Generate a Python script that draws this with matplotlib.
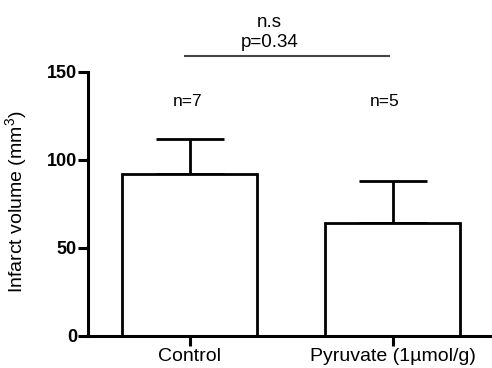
import numpy as np
import matplotlib
matplotlib.use('Agg')
import matplotlib.pyplot as plt

plt.rcParams['font.family'] = ['Liberation Sans', 'DejaVu Sans']
plt.rcParams['mathtext.fontset'] = 'custom'
plt.rcParams['mathtext.rm'] = 'Liberation Sans'

groups = ['Control', 'Pyruvate (1µmol/g)']
means = [92, 64]
sem = [20, 24]
n_labels = ['n=7', 'n=5']
yticks = [0, 50, 100, 150]
sig_label = 'n.s'
p_label = 'p=0.34'

fig = plt.figure(figsize=(4.92, 3.68), dpi=100)
ax = fig.add_axes([88 / 492, 32 / 368, 404 / 492, 264 / 368])

x = np.arange(len(groups))
ax.bar(x, means, width=0.665, color='white', edgecolor='black', linewidth=2.0, zorder=2)
ax.errorbar(x, means, yerr=[np.zeros(len(sem)), sem], fmt='none', ecolor='black',
            elinewidth=2.0, capsize=24.5, capthick=2.0, zorder=1)

for xi, lab, off in zip(x, n_labels, [-0.01, -0.04]):
    ax.text(xi + off, 133, lab, ha='center', va='center', fontsize=12.5)

ax.set_xlim(-0.502, 1.49)
ax.set_ylim(0, 150)
ax.set_yticks(yticks)
ax.set_yticklabels([str(t) for t in yticks], fontweight='bold', fontsize=13)
ax.set_xticks(x)
ax.set_xticklabels(groups, fontsize=14)

for s in ['top', 'right']:
    ax.spines[s].set_visible(False)
for s in ['left', 'bottom']:
    ax.spines[s].set_linewidth(2.2)
ax.tick_params(axis='both', width=2.2, length=7, direction='out')
ax.tick_params(axis='y', pad=1)
ax.tick_params(axis='x', pad=1.5)

ax.set_ylabel('Infarct volume (mm$^3$)', fontsize=14, va='center')
ax.yaxis.set_label_coords(-0.176, 0.51)

# significance bar
ax.plot([-0.025, 0.98], [159, 159], color='#444444', lw=1.5, clip_on=False)
ax.text(0.394, 166.5, p_label, ha='center', va='center', fontsize=13.5)
ax.text(0.394, 178, sig_label, ha='center', va='center', fontsize=13.5)

fig.savefig('out.png', dpi=100)
